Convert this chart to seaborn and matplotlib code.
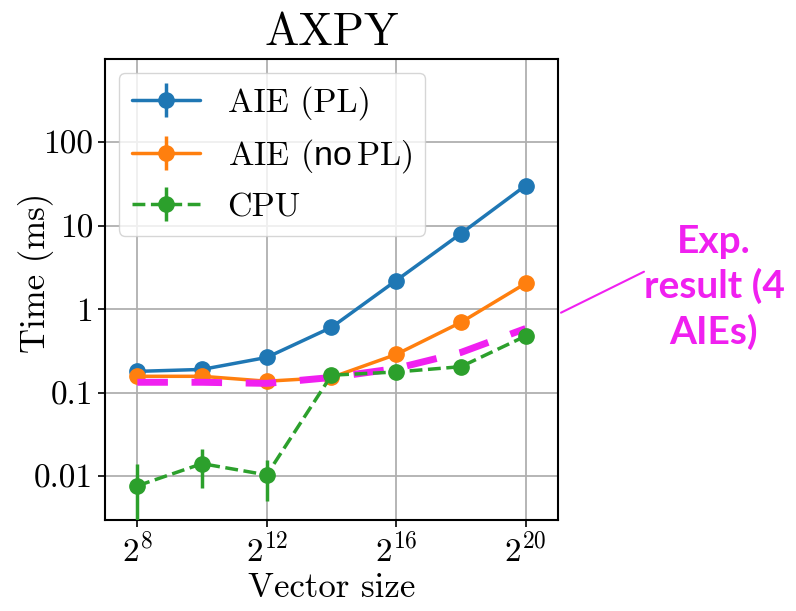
import numpy as np
import pandas as pd
import matplotlib
matplotlib.use("Agg")
import matplotlib.pyplot as plt
import seaborn as sns
from matplotlib.lines import Line2D

# ---------------- data ----------------
exponents = [8, 10, 12, 14, 16, 18, 20]
aie_pl = [0.181, 0.191, 0.266, 0.61, 2.22, 8.1, 30.5]
aie_nopl = [0.158, 0.158, 0.138, 0.153, 0.289, 0.70, 2.05]
cpu = [0.0077, 0.0142, 0.0104, 0.163, 0.178, 0.206, 0.48]
cpu_err = [0.0063, 0.0070, 0.0053, 0.0, 0.0, 0.0, 0.0]
exp_result = [0.134, 0.134, 0.130, 0.153, 0.196, 0.305, 0.59]
xtick_exps = [8, 12, 16, 20]
ytick_vals = [0.01, 0.1, 1, 10, 100]
ytick_labels = ["0.01", "0.1", "1", "10", "100"]

sizes = [2 ** e for e in exponents]
exp_df = pd.DataFrame({"size": sizes, "time": exp_result})

# ---------------- style ----------------
sns.set_style("ticks", {"axes.grid": True, "grid.color": "#b0b0b0",
                        "axes.edgecolor": "black", "xtick.color": "black",
                        "ytick.color": "black", "text.color": "black",
                        "axes.labelcolor": "black"})
plt.rcParams["font.family"] = ["cmr10", "DejaVu Serif"]
plt.rcParams["mathtext.fontset"] = "custom"
plt.rcParams["mathtext.rm"] = "cmr10"
plt.rcParams["mathtext.it"] = "cmr10"
plt.rcParams["mathtext.bf"] = "cmr10"
plt.rcParams["mathtext.sf"] = "Liberation Sans"
plt.rcParams["axes.unicode_minus"] = False
plt.rcParams["text.color"] = "black"
plt.rcParams["axes.labelcolor"] = "black"

fig = plt.figure(figsize=(7.96, 6.11), dpi=100)
ax = fig.add_axes([105 / 796, 1 - 520 / 611, 453 / 796, 461 / 611])

magenta = "#f020f0"
ms = 11
lw = 2.5

ax.errorbar(sizes, aie_pl, yerr=[0] * len(sizes), fmt="-o", color="#1f77b4",
            ms=ms, lw=lw, elinewidth=lw, label="AIE (PL)", zorder=2)
ax.errorbar(sizes, aie_nopl, yerr=[0] * len(sizes), fmt="-o", color="#ff7f0e",
            ms=ms, lw=lw, elinewidth=lw, label=r"AIE ($\mathsf{no}\,$PL)", zorder=2)
sns.lineplot(data=exp_df, x="size", y="time", ax=ax, color=magenta, lw=5,
             dashes=False, legend=False, zorder=3)
ax.lines[-1].set_dashes((4.4, 3.4))
ax.errorbar(sizes, cpu, yerr=cpu_err, fmt="--o", color="#2ca02c",
            ms=ms, lw=lw, elinewidth=lw, label="CPU", zorder=4)

ax.set_xscale("log", base=2)
ax.set_yscale("log")
ax.set_xlim(2 ** 7, 2 ** 21)
ax.set_ylim(0.003, 1000)
ax.set_xticks([2 ** e for e in xtick_exps])
ax.set_xticklabels([r"$2^{%d}$" % e for e in xtick_exps])
ax.set_yticks(ytick_vals)
ax.set_yticklabels(ytick_labels)
ax.minorticks_off()
ax.tick_params(labelsize=24, length=5, width=1.2, colors="black")
for s in ax.spines.values():
    s.set_linewidth(1.5)
    s.set_color("black")
ax.grid(True, color="#b0b0b0", lw=1.3)

ax.set_title("AXPY", fontsize=33, pad=10, color="black")
ax.set_xlabel("Vector size", fontsize=25, labelpad=4, color="black")
ax.set_ylabel("Time (ms)", fontsize=25, color="black")
ax.yaxis.set_label_coords(-0.113, 0.535)

leg = ax.legend(loc="upper left", fontsize=24.5, frameon=True, fancybox=True,
                framealpha=0.8, edgecolor="#cccccc", borderaxespad=0.4)
for t in leg.get_texts():
    t.set_color("black")

# annotation outside the axes
fig.add_artist(Line2D([561 / 796, 644 / 796], [1 - 312.7 / 611, 1 - 271.7 / 611],
                      transform=fig.transFigure, color=magenta, lw=1.5))
fig.text(714 / 796, 1 - 287 / 611, "Exp.\nresult (4\nAIEs)", ha="center",
         va="center", multialignment="center", color=magenta, fontsize=28,
         fontweight="bold", family=["Lato", "DejaVu Sans"], linespacing=1.3)

fig.savefig("out.png", dpi=100)
